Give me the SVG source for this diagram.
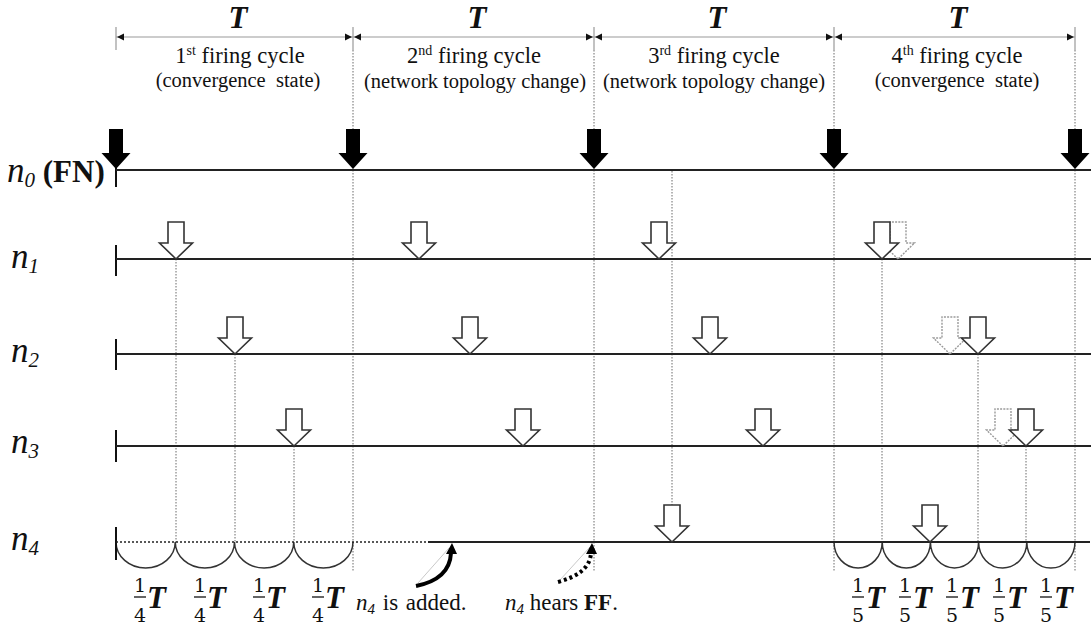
<svg xmlns="http://www.w3.org/2000/svg" width="1091" height="631" viewBox="0 0 1091 631">
  <style>
    text { font-family: "Liberation Serif", "Times New Roman", serif; fill: #111; }
    .tl { stroke: #222; stroke-width: 2; fill: none; }
    .tick { stroke: #111; stroke-width: 2; }
    .dot { stroke: #6a6a6a; stroke-width: 1; stroke-dasharray: 1.5 1.5; fill: none; }
    .hollow { fill: #fff; stroke: #333; stroke-width: 1.6; }
    .ghost { fill: #fff; stroke: #9a9a9a; stroke-width: 1.4; stroke-dasharray: 2 1.2; }
    .solid { fill: #000; stroke: none; }
    .arc { fill: none; stroke: #333; stroke-width: 1.5; }
    .dim { stroke: #999; stroke-width: 1.2; }
    .dimhead { fill: #111; }
    .big { font-size: 31px; font-weight: bold; font-style: italic; }
    .title { font-size: 22.5px; }
    .paren { font-size: 20.5px; }
    .lbl { font-size: 35px; }
    .note { font-size: 23px; }
    .frac { font-family: "DejaVu Serif", "Liberation Serif", serif; font-size: 19px; }
    .bar { stroke: #111; stroke-width: 1.3; }
  </style>
  <defs>
    <!-- outline firing arrow, tip at origin -->
    <path id="hollowArrow" d="M0,0 L-16.5,-16 L-8,-16 L-8,-37 L8,-37 L8,-16 L16.5,-16 Z"/>
    <!-- filled firing arrow of the FN, tip at origin -->
    <path id="solidArrow" d="M0,0 L-14.5,-16 L-7,-16 L-7,-40 L7,-40 L7,-16 L14.5,-16 Z"/>
  </defs>

  <!-- connectors: guide lines, cycle dimensions, arcs and annotation arrows -->
  <g id="connectors">
    <!-- cycle boundary guides -->
    <line class="dot" x1="353" y1="50" x2="353" y2="572"/>
    <line class="dot" x1="594" y1="50" x2="594" y2="572"/>
    <line class="dot" x1="834" y1="50" x2="834" y2="572"/>
    <line class="dot" x1="1075" y1="50" x2="1075" y2="572"/>
    <!-- firing guides -->
    <line class="dot" x1="176" y1="259" x2="176" y2="542"/>
    <line class="dot" x1="235" y1="354" x2="235" y2="542"/>
    <line class="dot" x1="294" y1="446" x2="294" y2="542"/>
    <line class="dot" x1="672" y1="171" x2="672" y2="542"/>
    <line class="dot" x1="882" y1="259" x2="882" y2="542"/>
    <line class="dot" x1="978" y1="354" x2="978" y2="542"/>
    <line class="dot" x1="1026" y1="446" x2="1026" y2="542"/>

    <!-- period dimension line -->
    <line class="dim" x1="116" y1="37" x2="1075" y2="37"/>
    <g class="dim">
      <line x1="116" y1="27" x2="116" y2="50"/>
      <line x1="353" y1="27" x2="353" y2="50"/>
      <line x1="594" y1="27" x2="594" y2="50"/>
      <line x1="834" y1="27" x2="834" y2="50"/>
      <line x1="1075" y1="27" x2="1075" y2="50"/>
    </g>
    <g class="dimhead">
      <path d="M117,37 L124,33.5 L124,40.5 Z"/>
      <path d="M352,37 L345,33.5 L345,40.5 Z"/>
      <path d="M354,37 L361,33.5 L361,40.5 Z"/>
      <path d="M593,37 L586,33.5 L586,40.5 Z"/>
      <path d="M595,37 L602,33.5 L602,40.5 Z"/>
      <path d="M833,37 L826,33.5 L826,40.5 Z"/>
      <path d="M835,37 L842,33.5 L842,40.5 Z"/>
      <path d="M1074,37 L1067,33.5 L1067,40.5 Z"/>
    </g>

    <!-- quarter-period arcs -->
    <path class="arc" d="M116,542 A29.6,26 0 0 0 175.25,542 A29.6,26 0 0 0 234.5,542 A29.6,26 0 0 0 293.75,542 A29.6,26 0 0 0 353,542"/>
    <!-- fifth-period arcs -->
    <path class="arc" d="M834,542 A24.1,26 0 0 0 882.2,542 A24.1,26 0 0 0 930.4,542 A24.1,26 0 0 0 978.6,542 A24.1,26 0 0 0 1026.8,542 A24.1,26 0 0 0 1075,542"/>

    <!-- annotation arrows -->
    <line x1="418" y1="583" x2="449" y2="548" stroke="#bbb" stroke-width="0.8"/>
    <path d="M416,586 C436,582 450,572 451,553" fill="none" stroke="#000" stroke-width="4"/>
    <path d="M452,543 L457,554 L446,554 Z" fill="#000"/>
    <line x1="560" y1="580" x2="590" y2="547" stroke="#bbb" stroke-width="0.8"/>
    <path d="M558,582 C576,577 590,569 591,553" fill="none" stroke="#000" stroke-width="4" stroke-dasharray="3 3"/>
    <path d="M592,543 L597,554 L586,554 Z" fill="#000"/>
  </g>

  <!-- cycle headings -->
  <g id="cycle1">
    <text class="big" x="238" y="28" text-anchor="middle">T</text>
    <text class="title" x="240" y="63" text-anchor="middle">1<tspan font-size="14" dy="-8">st</tspan><tspan dy="8"> firing cycle</tspan></text>
    <text class="paren" x="238" y="87" text-anchor="middle" xml:space="preserve">(convergence  state)</text>
  </g>
  <g id="cycle2">
    <text class="big" x="477" y="28" text-anchor="middle">T</text>
    <text class="title" x="474" y="63" text-anchor="middle">2<tspan font-size="14" dy="-8">nd</tspan><tspan dy="8"> firing cycle</tspan></text>
    <text class="paren" x="475" y="88" text-anchor="middle">(network topology change)</text>
  </g>
  <g id="cycle3">
    <text class="big" x="717" y="28" text-anchor="middle">T</text>
    <text class="title" x="714" y="63" text-anchor="middle">3<tspan font-size="14" dy="-8">rd</tspan><tspan dy="8"> firing cycle</tspan></text>
    <text class="paren" x="714" y="88" text-anchor="middle">(network topology change)</text>
  </g>
  <g id="cycle4">
    <text class="big" x="958" y="28" text-anchor="middle">T</text>
    <text class="title" x="957" y="63" text-anchor="middle">4<tspan font-size="14" dy="-8">th</tspan><tspan dy="8"> firing cycle</tspan></text>
    <text class="paren" x="957" y="87" text-anchor="middle" xml:space="preserve">(convergence  state)</text>
  </g>

  <!-- node n0: the firing node -->
  <g id="node-n0">
    <text x="7" y="182"><tspan class="lbl" font-style="italic">n</tspan><tspan font-size="21" font-style="italic" dy="5">0</tspan><tspan font-size="31" font-weight="bold" dy="-5"> (FN)</tspan></text>
    <line class="tick" x1="116" y1="158" x2="116" y2="187"/>
    <line class="tl" x1="116" y1="170" x2="1091" y2="170"/>
    <use href="#solidArrow" class="solid" x="116" y="169"/>
    <use href="#solidArrow" class="solid" x="353" y="169"/>
    <use href="#solidArrow" class="solid" x="594" y="169"/>
    <use href="#solidArrow" class="solid" x="834" y="169"/>
    <use href="#solidArrow" class="solid" x="1075" y="169"/>
  </g>

  <!-- node n1 -->
  <g id="node-n1">
    <text x="11" y="268"><tspan class="lbl" font-style="italic">n</tspan><tspan font-size="21" font-style="italic" dy="5">1</tspan></text>
    <line class="tick" x1="116" y1="245" x2="116" y2="276"/>
    <line class="tl" x1="116" y1="259" x2="1091" y2="259"/>
    <use href="#hollowArrow" class="hollow" x="176" y="259"/>
    <use href="#hollowArrow" class="hollow" x="419" y="259"/>
    <use href="#hollowArrow" class="hollow" x="659" y="259"/>
    <use href="#hollowArrow" class="ghost" x="898" y="259"/>
    <use href="#hollowArrow" class="hollow" x="882" y="259"/>
  </g>

  <!-- node n2 -->
  <g id="node-n2">
    <text x="11" y="362"><tspan class="lbl" font-style="italic">n</tspan><tspan font-size="21" font-style="italic" dy="5">2</tspan></text>
    <line class="tick" x1="116" y1="339" x2="116" y2="370"/>
    <line class="tl" x1="116" y1="354" x2="1091" y2="354"/>
    <use href="#hollowArrow" class="hollow" x="235" y="354"/>
    <use href="#hollowArrow" class="hollow" x="470" y="354"/>
    <use href="#hollowArrow" class="hollow" x="710" y="354"/>
    <use href="#hollowArrow" class="ghost" x="950" y="354"/>
    <use href="#hollowArrow" class="hollow" x="978" y="354"/>
  </g>

  <!-- node n3 -->
  <g id="node-n3">
    <text x="11" y="453"><tspan class="lbl" font-style="italic">n</tspan><tspan font-size="21" font-style="italic" dy="5">3</tspan></text>
    <line class="tick" x1="116" y1="430" x2="116" y2="462"/>
    <line class="tl" x1="116" y1="446" x2="1091" y2="446"/>
    <use href="#hollowArrow" class="hollow" x="294" y="446"/>
    <use href="#hollowArrow" class="hollow" x="523" y="446"/>
    <use href="#hollowArrow" class="hollow" x="763" y="446"/>
    <use href="#hollowArrow" class="ghost" x="1003" y="446"/>
    <use href="#hollowArrow" class="hollow" x="1026" y="446"/>
  </g>

  <!-- node n4: joins the network during the 2nd cycle -->
  <g id="node-n4">
    <text x="11" y="550"><tspan class="lbl" font-style="italic">n</tspan><tspan font-size="21" font-style="italic" dy="5">4</tspan></text>
    <line class="tick" x1="116" y1="527" x2="116" y2="560"/>
    <line x1="116" y1="542" x2="428" y2="542" stroke="#222" stroke-width="1.5" stroke-dasharray="2 2"/>
    <line class="tl" x1="428" y1="542" x2="1090" y2="542"/>
    <use href="#hollowArrow" class="hollow" x="672" y="542"/>
    <use href="#hollowArrow" class="hollow" x="930" y="542"/>
    <text class="note" x="356" y="610" word-spacing="2"><tspan font-style="italic">n</tspan><tspan font-size="15" font-style="italic" dy="4">4</tspan><tspan dy="-4"> is added.</tspan></text>
    <text class="note" x="505" y="610"><tspan font-style="italic">n</tspan><tspan font-size="15" font-style="italic" dy="4">4</tspan><tspan dy="-4"> hears </tspan><tspan font-weight="bold">FF</tspan>.</text>
  </g>

  <!-- interval labels -->
  <g id="intervals">
    <g>
      <text class="frac" x="140" y="592" text-anchor="middle">1</text><line class="bar" x1="134" y1="597" x2="146" y2="597"/><text class="frac" x="140" y="622" text-anchor="middle">4</text><text class="big" x="147" y="608">T</text>
      <text class="frac" x="200" y="592" text-anchor="middle">1</text><line class="bar" x1="194" y1="597" x2="206" y2="597"/><text class="frac" x="200" y="622" text-anchor="middle">4</text><text class="big" x="207" y="608">T</text>
      <text class="frac" x="259" y="592" text-anchor="middle">1</text><line class="bar" x1="253" y1="597" x2="265" y2="597"/><text class="frac" x="259" y="622" text-anchor="middle">4</text><text class="big" x="266" y="608">T</text>
      <text class="frac" x="318" y="592" text-anchor="middle">1</text><line class="bar" x1="312" y1="597" x2="324" y2="597"/><text class="frac" x="318" y="622" text-anchor="middle">4</text><text class="big" x="325" y="608">T</text>
    </g>
    <g>
      <text class="frac" x="858" y="592" text-anchor="middle">1</text><line class="bar" x1="852" y1="597" x2="864" y2="597"/><text class="frac" x="858" y="622" text-anchor="middle">5</text><text class="big" x="866" y="608">T</text>
      <text class="frac" x="905" y="592" text-anchor="middle">1</text><line class="bar" x1="899" y1="597" x2="911" y2="597"/><text class="frac" x="905" y="622" text-anchor="middle">5</text><text class="big" x="913" y="608">T</text>
      <text class="frac" x="952" y="592" text-anchor="middle">1</text><line class="bar" x1="946" y1="597" x2="958" y2="597"/><text class="frac" x="952" y="622" text-anchor="middle">5</text><text class="big" x="960" y="608">T</text>
      <text class="frac" x="999" y="592" text-anchor="middle">1</text><line class="bar" x1="993" y1="597" x2="1005" y2="597"/><text class="frac" x="999" y="622" text-anchor="middle">5</text><text class="big" x="1007" y="608">T</text>
      <text class="frac" x="1046" y="592" text-anchor="middle">1</text><line class="bar" x1="1040" y1="597" x2="1052" y2="597"/><text class="frac" x="1046" y="622" text-anchor="middle">5</text><text class="big" x="1054" y="608">T</text>
    </g>
  </g>
</svg>
